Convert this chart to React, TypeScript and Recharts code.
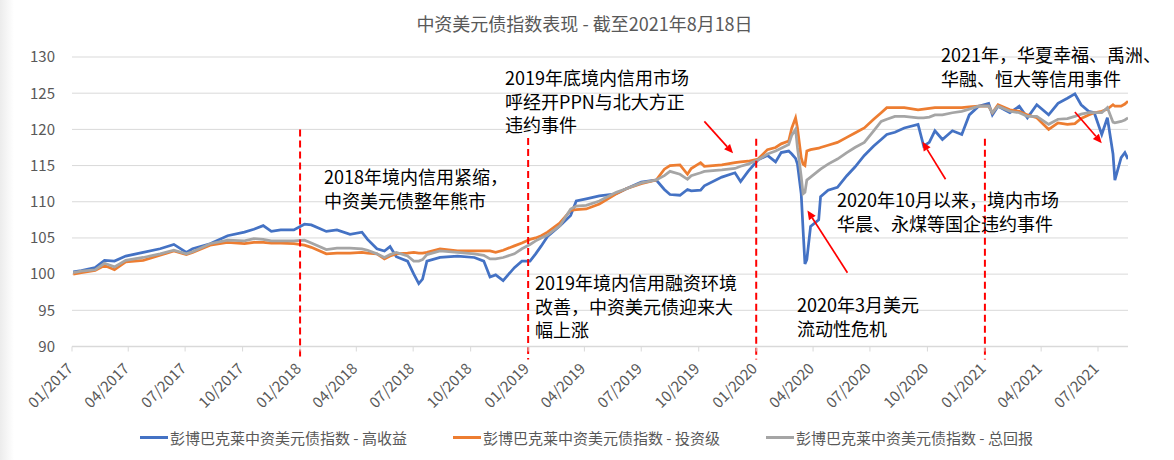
import React from 'react';
import { LineChart, Line, XAxis, YAxis, CartesianGrid, ReferenceLine } from 'recharts';

// ---------- data ----------
const dates = [
  '2017-01-03', '2017-01-16', '2017-02-07', '2017-02-22', '2017-03-10', '2017-03-28', '2017-04-25', '2017-05-22',
  '2017-06-13', '2017-07-03', '2017-07-13', '2017-08-10', '2017-09-07', '2017-10-04', '2017-10-19', '2017-11-03',
  '2017-11-16', '2017-12-01', '2017-12-22', '2018-01-08', '2018-01-19', '2018-02-12', '2018-03-01', '2018-03-22',
  '2018-04-10', '2018-04-19', '2018-05-04', '2018-05-16', '2018-05-25', '2018-06-04', '2018-06-22', '2018-07-02',
  '2018-07-10', '2018-07-16', '2018-07-23', '2018-08-13', '2018-09-10', '2018-10-07', '2018-10-22', '2018-11-01',
  '2018-11-10', '2018-11-22', '2018-12-10', '2018-12-22', '2019-01-04', '2019-01-13', '2019-01-22', '2019-02-01',
  '2019-02-21', '2019-03-10', '2019-03-19', '2019-04-04', '2019-04-25', '2019-05-22', '2019-06-07', '2019-07-01',
  '2019-07-25', '2019-08-07', '2019-08-16', '2019-09-01', '2019-09-13', '2019-09-19', '2019-10-04', '2019-10-10',
  '2019-11-07', '2019-11-28', '2019-12-07', '2019-12-19', '2020-01-04', '2020-01-19', '2020-02-01', '2020-02-10',
  '2020-02-22', '2020-02-27', '2020-03-04', '2020-03-07', '2020-03-13', '2020-03-16', '2020-03-19', '2020-03-22',
  '2020-03-28', '2020-04-10', '2020-04-13', '2020-04-25', '2020-05-10', '2020-05-25', '2020-06-07', '2020-06-22',
  '2020-07-07', '2020-07-19', '2020-07-28', '2020-08-10', '2020-08-25', '2020-09-16', '2020-09-25', '2020-10-04',
  '2020-10-13', '2020-10-25', '2020-11-10', '2020-11-25', '2020-12-07', '2020-12-22', '2021-01-07', '2021-01-13',
  '2021-01-22', '2021-02-10', '2021-02-25', '2021-03-10', '2021-03-25', '2021-04-13', '2021-04-28', '2021-05-13',
  '2021-05-25', '2021-06-04', '2021-06-16', '2021-06-25', '2021-07-07', '2021-07-16', '2021-07-25', '2021-07-28',
  '2021-08-07', '2021-08-13', '2021-08-18',
];

const highYield = [
  100.3, 100.5, 100.9, 101.9, 101.8, 102.5, 103.0, 103.5,
  104.1, 103.0, 103.5, 104.2, 105.3, 105.8, 106.2, 106.7,
  105.9, 106.1, 106.1, 106.9, 106.8, 105.9, 106.1, 105.5,
  105.8, 104.8, 103.5, 103.2, 103.8, 102.4, 101.8, 100.0,
  98.7, 99.3, 101.8, 102.3, 102.5, 102.3, 101.8, 99.6,
  99.9, 99.1, 100.9, 101.8, 101.8, 102.8, 103.9, 105.2,
  106.7, 108.1, 110.1, 110.4, 110.8, 111.1, 111.8, 112.7,
  113.0, 111.7, 111.0, 110.9, 111.7, 111.5, 111.6, 112.2,
  113.4, 114.0, 112.8, 114.2, 115.8, 116.4, 115.5, 116.8,
  117.0, 116.6, 116.0, 115.2, 111.1, 106.1, 101.4, 102.0,
  106.6, 107.5, 110.7, 111.6, 112.0, 113.6, 114.8, 116.4,
  117.7, 118.6, 119.3, 119.6, 120.2, 120.7, 117.7, 118.2,
  119.8, 118.6, 119.8, 119.3, 122.0, 123.2, 123.6, 122.0,
  123.2, 122.3, 123.2, 121.6, 123.4, 122.0, 123.6, 124.3,
  124.9, 123.4, 122.5, 122.3, 119.3, 121.6, 116.6, 113.0,
  116.1, 116.8, 115.9,
];

const investmentGrade = [
  100.0, 100.2, 100.5, 101.2, 100.6, 101.7, 101.9, 102.6,
  103.2, 102.7, 103.0, 104.0, 104.4, 104.2, 104.4, 104.4,
  104.3, 104.3, 104.2, 104.0, 103.7, 102.8, 102.9, 102.9,
  103.0, 102.9, 102.8, 102.1, 102.5, 102.8, 102.9, 103.0,
  102.9, 102.9, 103.0, 103.5, 103.2, 103.2, 103.2, 103.2,
  103.0, 103.3, 103.9, 104.3, 104.8, 105.0, 105.3, 105.8,
  107.1, 108.8, 108.9, 109.0, 109.7, 111.1, 111.8, 112.5,
  113.0, 114.5, 115.0, 115.1, 113.8, 114.6, 115.4, 114.9,
  115.1, 115.4, 115.5, 115.6, 115.9, 117.2, 117.5, 118.0,
  118.4, 120.2, 121.6, 120.2, 116.1, 115.2, 115.0, 117.0,
  117.2, 117.4, 117.5, 117.8, 118.2, 118.9, 119.5, 120.2,
  121.4, 122.3, 123.0, 123.0, 123.0, 122.7, 122.8, 122.9,
  123.0, 123.0, 123.0, 123.0, 123.1, 123.2, 123.2, 122.3,
  123.4, 122.7, 122.5, 122.0, 121.6, 120.0, 120.9, 120.7,
  120.8, 121.5, 122.0, 122.3, 122.5, 122.8, 123.4, 123.2,
  123.2, 123.5, 123.9,
];

const totalReturn = [
  100.2, 100.4, 100.6, 101.5, 101.0, 101.9, 102.3, 102.8,
  103.3, 102.8, 103.1, 104.2, 104.7, 104.6, 104.9, 104.8,
  104.6, 104.6, 104.6, 104.7, 104.3, 103.4, 103.6, 103.6,
  103.5, 103.3, 102.8, 102.3, 102.7, 103.0, 102.5, 101.8,
  101.8, 102.0, 102.7, 103.2, 103.0, 102.8, 102.6, 102.1,
  102.1, 102.3, 102.8, 103.5, 104.1, 104.6, 105.0, 105.4,
  106.7, 109.0, 109.4, 109.5, 110.1, 111.3, 111.8, 112.6,
  113.0, 113.6, 114.2, 113.8, 113.1, 113.6, 114.0, 114.2,
  114.4, 114.6, 114.9, 115.2, 115.8, 116.6, 117.0, 117.4,
  117.9, 119.2, 120.0, 117.5, 113.5, 111.1, 111.3, 113.0,
  113.4, 114.3, 114.5, 115.2, 115.9, 116.8, 117.5, 118.2,
  119.8, 121.1, 121.4, 121.8, 121.8, 121.6, 121.6, 121.7,
  122.0, 122.0, 122.3, 122.5, 122.8, 123.2, 123.2, 122.3,
  123.2, 122.5, 122.3, 121.8, 121.8, 120.7, 121.4, 121.5,
  121.8, 122.1, 122.3, 122.3, 122.3, 123.0, 121.0, 120.9,
  121.1, 121.3, 121.6,
];

const seriesNames = [
  '彭博巴克莱中资美元债指数 - 高收益',
  '彭博巴克莱中资美元债指数 - 投资级',
  '彭博巴克莱中资美元债指数 - 总回报',
];
const seriesKeys = ['hy', 'ig', 'tr'];
const seriesColors = ['#4472C4', '#ED7D31', '#A5A5A5'];

const yTicks = [90, 95, 100, 105, 110, 115, 120, 125, 130];
const xTickLabels = [
  '01/2017', '04/2017', '07/2017', '10/2017', '01/2018', '04/2018', '07/2018', '10/2018',
  '01/2019', '04/2019', '07/2019', '10/2019', '01/2020', '04/2020', '07/2020', '10/2020',
  '01/2021', '04/2021', '07/2021',
];
const xDomainDates = ['2017-01-01', '2021-08-18'];

// event markers (dashed red lines)
const eventDates = ['2018-01-01', '2019-01-01', '2020-01-01', '2021-01-01'];
const eventTops = [120.0, 118.8, 118.7, 118.7];
const eventBottom = 88.2;

// annotation arrows: [fromDate, fromValue, toDate, toValue]
const arrows: [string, number, string, number][] = [
  ['2019-10-10', 121.1, '2019-11-25', 116.7],
  ['2020-05-26', 100.2, '2020-03-23', 108.8],
  ['2020-10-30', 113.1, '2020-09-23', 118.3],
  ['2021-05-25', 122.4, '2021-07-07', 118.1],
];

const notes = [
  { left: 324, firstCenter: 177, lines: ['2018年境内信用紧缩，', '中资美元债整年熊市'] },
  { left: 505, firstCenter: 78, lines: ['2019年底境内信用市场', '呼经开PPN与北大方正', '违约事件'] },
  { left: 535, firstCenter: 283, lines: ['2019年境内信用融资环境', '改善，中资美元债迎来大', '幅上涨'] },
  { left: 797, firstCenter: 305, lines: ['2020年3月美元', '流动性危机'] },
  { left: 837, firstCenter: 200, lines: ['2020年10月以来，境内市场', '华晨、永煤等国企违约事件'] },
  { left: 941, firstCenter: 55, lines: ['2021年，华夏幸福、禹洲、', '华融、恒大等信用事件'] },
];

// ---------- helpers ----------
const toTs = (s: string) => Date.UTC(+s.slice(0, 4), +s.slice(5, 7) - 1, +s.slice(8, 10));
const labelToTs = (l: string) => Date.UTC(+l.slice(3, 7), +l.slice(0, 2) - 1, 1);

const rows = dates.map((d, i) => ({
  t: toTs(d),
  hy: highYield[i],
  ig: investmentGrade[i],
  tr: totalReturn[i],
}));
const xTicks = xTickLabels.map(labelToTs);
const labelByTs: Record<number, string> = {};
xTickLabels.forEach((l) => (labelByTs[labelToTs(l)] = l));

const FONT = "'Noto Sans CJK SC', 'Noto Sans', sans-serif";
const AXIS_TEXT = '#595959';
const GRID = '#D9D9D9';
const NOTE_LH = 23.5;

const XTick = (props: any) => {
  const { x, y, payload } = props;
  return (
    <g transform={`translate(${x + 2},${y + 16})`}>
      <text x={0} y={0} transform="rotate(-45)" textAnchor="end" fill={AXIS_TEXT} fontSize={15} fontFamily={FONT}>
        {labelByTs[payload.value] ?? ''}
      </text>
    </g>
  );
};

const ArrowShape = (p: any) => {
  const { x1, y1, x2, y2 } = p;
  if ([x1, y1, x2, y2].some((v) => typeof v !== 'number' || isNaN(v))) return <g />;
  const ang = Math.atan2(y2 - y1, x2 - x1);
  const L = 9;
  const W = 4;
  const bx = x2 - L * Math.cos(ang);
  const by = y2 - L * Math.sin(ang);
  const pts = `${x2},${y2} ${bx - W * Math.sin(ang)},${by + W * Math.cos(ang)} ${bx + W * Math.sin(ang)},${by - W * Math.cos(ang)}`;
  return (
    <g>
      <line x1={x1} y1={y1} x2={bx} y2={by} stroke="#FF0000" strokeWidth={1.7} />
      <polygon points={pts} fill="#FF0000" />
    </g>
  );
};

export default function App() {
  return (
    <div
      style={{
        position: 'absolute',
        left: 0,
        top: 0,
        width: 1174,
        height: 460,
        background: 'linear-gradient(to right, #ececec 0px, #ffffff 14px)',
        fontFamily: FONT,
        overflow: 'hidden',
      }}
    >
      <div
        style={{
          position: 'absolute',
          top: 12,
          left: 0,
          width: 1169,
          textAlign: 'center',
          fontSize: 18,
          lineHeight: '22px',
          color: '#595959',
          whiteSpace: 'nowrap',
        }}
      >
        中资美元债指数表现 - 截至2021年8月18日
      </div>

      <div style={{ position: 'absolute', left: 0, top: 0 }}>
        <LineChart width={1174} height={460} data={rows} margin={{ top: 57, right: 46, bottom: 53.5, left: 0 }}>
          <CartesianGrid vertical={false} stroke={GRID} strokeWidth={1} />
          <XAxis
            dataKey="t"
            type="number"
            domain={[toTs(xDomainDates[0]), toTs(xDomainDates[1])]}
            ticks={xTicks}
            interval={0}
            height={60}
            tick={<XTick />}
            tickSize={5}
            tickLine={{ stroke: GRID }}
            axisLine={{ stroke: GRID, strokeWidth: 1.5 }}
            allowDataOverflow
          />
          <YAxis
            type="number"
            domain={[90, 130]}
            ticks={yTicks}
            interval={0}
            width={72}
            axisLine={false}
            tickLine={false}
            tickSize={0}
            tickMargin={17}
            tick={{ fill: AXIS_TEXT, fontSize: 15, fontFamily: FONT }}
            allowDataOverflow
          />
          {seriesKeys.map((k, i) => (
            <Line
              key={k}
              type="linear"
              dataKey={k}
              name={seriesNames[i]}
              stroke={seriesColors[i]}
              strokeWidth={2.75}
              dot={false}
              activeDot={false}
              isAnimationActive={false}
            />
          ))}
          {eventDates.map((d, i) => (
            <ReferenceLine
              key={d}
              segment={[
                { x: toTs(d), y: eventTops[i] },
                { x: toTs(d), y: eventBottom },
              ]}
              stroke="#FF0000"
              strokeWidth={2}
              strokeDasharray="7 4"
              ifOverflow="visible"
            />
          ))}
          {arrows.map((a, i) => (
            <ReferenceLine
              key={'arrow' + i}
              segment={[
                { x: toTs(a[0]), y: a[1] },
                { x: toTs(a[2]), y: a[3] },
              ]}
              ifOverflow="visible"
              shape={ArrowShape}
            />
          ))}
        </LineChart>
      </div>

      {notes.map((n, i) => (
        <div
          key={'note' + i}
          style={{
            position: 'absolute',
            left: n.left,
            top: n.firstCenter - NOTE_LH / 2,
            fontSize: 18,
            lineHeight: NOTE_LH + 'px',
            color: '#000000',
            whiteSpace: 'pre',
          }}
        >
          {n.lines.join('\n')}
        </div>
      ))}

      {seriesNames.map((name, i) => (
        <div
          key={name}
          style={{
            position: 'absolute',
            left: [140, 453, 766][i],
            top: 426,
            height: 22,
            display: 'flex',
            alignItems: 'center',
            fontSize: 15,
            color: AXIS_TEXT,
            whiteSpace: 'nowrap',
          }}
        >
          <span style={{ display: 'inline-block', width: 28, height: 3, background: seriesColors[i], marginRight: 2 }} />
          <span>{name}</span>
        </div>
      ))}
    </div>
  );
}
